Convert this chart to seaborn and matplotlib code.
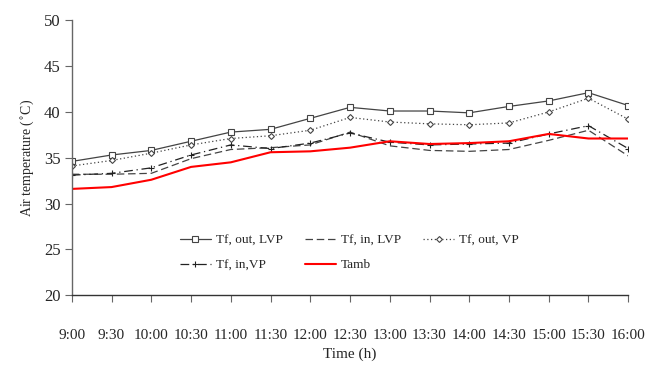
import pandas as pd
import matplotlib.pyplot as plt
import seaborn as sns

times = ['9:00', '9:30', '10:00', '10:30', '11:00', '11:30', '12:00', '12:30',
         '13:00', '13:30', '14:00', '14:30', '15:00', '15:30', '16:00']
tf_out_lvp = [34.6, 35.3, 35.8, 36.8, 37.8, 38.1, 39.3, 40.5, 40.1, 40.1, 39.9, 40.6, 41.2, 42.1, 40.7]
tf_in_lvp = [33.2, 33.2, 33.3, 34.9, 35.9, 36.1, 36.4, 37.8, 36.3, 35.8, 35.7, 35.9, 36.9, 38.0, 35.2]
tf_out_vp = [34.1, 34.7, 35.5, 36.4, 37.1, 37.4, 38.0, 39.4, 38.9, 38.7, 38.6, 38.8, 40.0, 41.5, 39.2]
tf_in_vp = [33.1, 33.3, 33.9, 35.3, 36.4, 36.0, 36.6, 37.7, 36.7, 36.4, 36.5, 36.6, 37.6, 38.5, 36.0]
tamb = [31.6, 31.8, 32.6, 34.0, 34.5, 35.6, 35.7, 36.1, 36.8, 36.5, 36.6, 36.8, 37.6, 37.1, 37.1]

df = pd.DataFrame({'pos': range(len(times)), 'time': times,
                   'Tf, out, LVP': tf_out_lvp, 'Tf, in, LVP': tf_in_lvp,
                   'Tf, out, VP': tf_out_vp, 'Tf, in,VP': tf_in_vp, 'Tamb': tamb})

sns.set_style('white')
plt.rcParams['font.family'] = ['Liberation Serif', 'DejaVu Serif']

fig = plt.figure(figsize=(6.47, 3.69), dpi=100)
ax = fig.add_axes([0.111, 0.2, 0.86, 0.745])

# (column, color, linestyle, marker, markersize, linewidth)
styles = [
    ('Tf, out, LVP', '#444444', '-', 's', 4, 0.9),
    ('Tf, in, LVP', '#444444', (0, (6, 3)), None, 0, 0.9),
    ('Tf, out, VP', '#444444', (0, (1, 2)), 'D', 3, 0.9),
    ('Tf, in,VP', '#222222', (0, (7, 3, 1, 3)), '+', 5, 0.9),
    ('Tamb', '#ff0000', '-', None, 0, 1.5),
]
for col, c, ls, mk, ms, lw in styles:
    sns.lineplot(data=df, x='pos', y=col, ax=ax, color=c, linestyle=ls, linewidth=lw,
                 marker=mk, markersize=ms, markerfacecolor='white' if mk in ('s', 'D') else c,
                 markeredgecolor=c, markeredgewidth=0.8, label=col)

ax.set_xlim(0, len(times) - 1)
ax.set_ylim(20, 50)
ax.set_yticks(range(20, 51, 5))
ax.set_xticks(df['pos'])
ax.set_xticklabels(times)
ax.tick_params(axis='x', direction='out', length=5, width=0.8, pad=19, labelsize=11, color='#666666')
ax.tick_params(axis='y', direction='out', length=5, width=0.8, pad=3, labelsize=12, color='#666666')
ax.tick_params(bottom=True, left=True)
for s in ['top', 'right']:
    ax.spines[s].set_visible(False)
ax.spines['left'].set_color('#666666')
ax.spines['bottom'].set_color('#333333')
ax.spines['left'].set_linewidth(1.0)
ax.spines['bottom'].set_linewidth(1.0)

ax.set_xlabel('Time (h)', fontsize=11, labelpad=4)
ax.set_ylabel('Air temperature ($^{\\circ}$C)', fontsize=10, labelpad=6)

# legend is filled column by column: reorder so rows read like the reference
handles, labels = ax.get_legend_handles_labels()
order = [0, 3, 1, 4, 2]
ax.legend([handles[i] for i in order], [labels[i] for i in order],
          loc='upper left', bbox_to_anchor=(0.183, 0.245), ncol=3, frameon=False,
          borderpad=0, fontsize=9.5, handlelength=2.3, handletextpad=0.4,
          columnspacing=1.7, labelspacing=0.95)

fig.savefig('out.png', dpi=100)
